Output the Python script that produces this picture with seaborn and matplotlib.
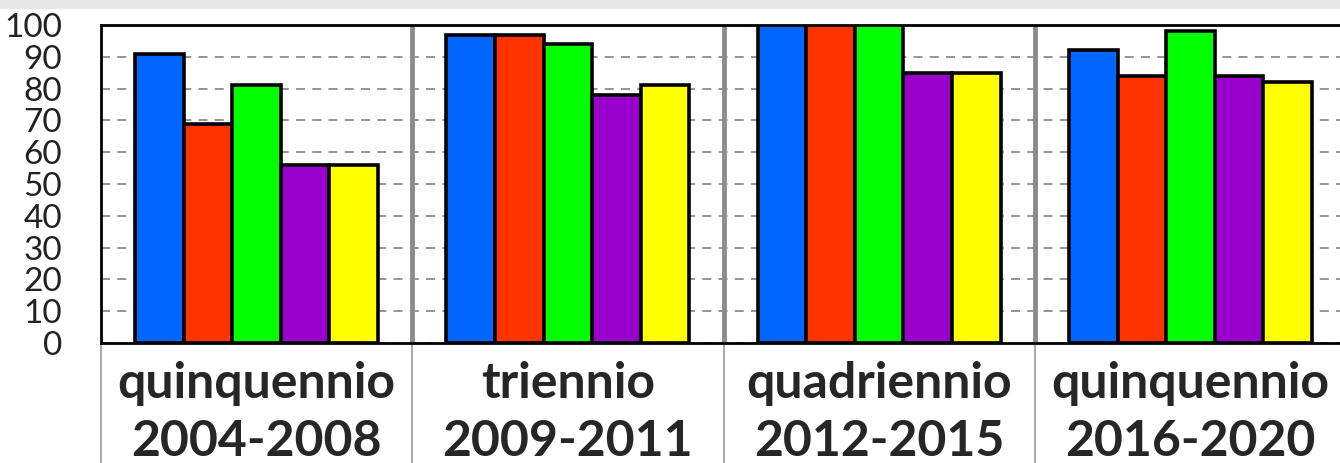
import pandas as pd
import matplotlib.pyplot as plt
import seaborn as sns

# periods on the x axis and the five series (colours only in the reference, no legend)
periods = ["quinquennio\n2004-2008", "triennio\n2009-2011", "quadriennio\n2012-2015", "quinquennio\n2016-2020"]
series = ["blu", "rosso", "verde", "viola", "giallo"]
blu = [91, 97, 100, 92]
rosso = [69, 97, 100, 84]
verde = [81, 94, 100, 98]
viola = [56, 78, 85, 84]
giallo = [56, 81, 85, 82]
colors = ["#0066FF", "#FF3300", "#00FF00", "#9900CC", "#FFFF00"]

rows = []
for name, vals in zip(series, [blu, rosso, verde, viola, giallo]):
    for p, v in zip(periods, vals):
        rows.append({"periodo": p, "serie": name, "valore": v})
df = pd.DataFrame(rows)

sns.set_style("white")
plt.rcParams["font.family"] = ["Lato", "DejaVu Sans"]

fig = plt.figure(figsize=(13.4, 4.63), dpi=100)
ax = fig.add_axes([101 / 1340, 120 / 463, 1245 / 1340, 318 / 463])

sns.barplot(data=df, x="periodo", y="valore", hue="serie", palette=colors, saturation=1,
            width=0.78, edgecolor="black", linewidth=2.6, legend=False, ax=ax, zorder=3)

ax.set_ylim(0, 100)
ax.set_xlim(-0.5, 3.5)
ax.set_yticks(range(0, 101, 10))
ax.grid(axis="y", color="#8C8C8C", linestyle=(0, (5, 4)), linewidth=1.3, zorder=0)

# thick grey separators between the periods
for x in [0.5, 1.5, 2.5]:
    ax.axvline(x, color="#8C8C8C", linewidth=3.5, zorder=2)
# thin table lines under the axis
ax.vlines([-0.5, 0.5, 1.5, 2.5], -0.4, 0, transform=ax.get_xaxis_transform(),
          color="#999999", linewidth=1.2, clip_on=False)

for side in ["left", "top", "bottom"]:
    ax.spines[side].set_color("black")
    ax.spines[side].set_linewidth(2)
ax.spines["right"].set_visible(False)

ax.tick_params(axis="y", length=10, width=1.5, color="#888888", labelsize=24, pad=18)
ax.tick_params(axis="x", length=0, labelsize=36, pad=13)
for lbl in ax.get_xticklabels():
    lbl.set_fontweight("bold")
    lbl.set_linespacing(1.35)
for lbl in ax.get_yticklabels():
    lbl.set_color("#222222")
ax.set_xlabel("")
ax.set_ylabel("")

# light grey strip at the top edge of the picture
fig.patches.append(plt.Rectangle((0, 1 - 8 / 463), 1, 8 / 463, transform=fig.transFigure,
                                 color="#E8E8E8", zorder=0))

fig.savefig("out.png", dpi=100)
